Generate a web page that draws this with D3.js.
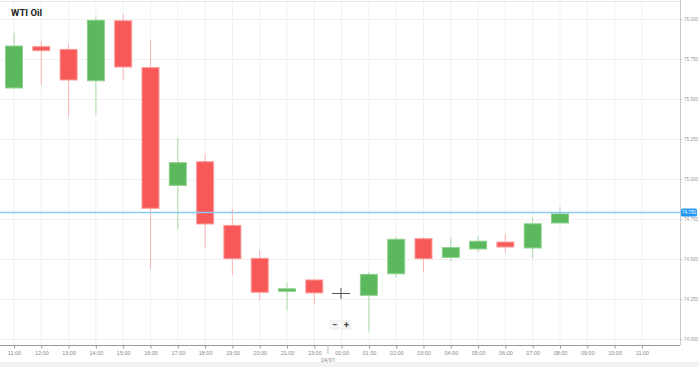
<!DOCTYPE html>
<html>
<head>
<meta charset="utf-8">
<script src="https://cdn.jsdelivr.net/npm/d3@7"></script>
<style>
  body { margin: 0; background: #fff; }
  svg { display: block; font-family: "Roboto", "Open Sans", sans-serif; }
</style>
</head>
<body>
<div id="chart"></div>
<script>
// chart data
const timeLabels = ["11:00","12:00","13:00","14:00","15:00","16:00","17:00","18:00","19:00","20:00","21:00","23:00",
                    "00:00","01:00","02:00","03:00","04:00","05:00","06:00","07:00","08:00","09:00","10:00","11:00"];
// index into timeLabels for each candle
const candleSlot = [0,1,2,3,4,5,6,7,8,9,10,11,13,14,15,16,17,18,19,20];
const opens  = [75.569,75.827,75.810,75.614,75.989,75.696,74.960,75.108,74.710,74.504,74.298,74.369,74.273,74.408,74.627,74.510,74.563,74.606,74.569,74.725];
const closes = [75.831,75.802,75.619,75.992,75.700,74.817,75.102,74.719,74.502,74.292,74.314,74.288,74.404,74.623,74.502,74.571,74.611,74.575,74.720,74.782];
const highs  = [75.913,75.864,75.844,76.014,76.031,75.864,75.258,75.160,74.813,74.556,74.352,74.373,74.420,74.636,74.636,74.636,74.644,74.658,74.758,74.827];
const lows   = [75.569,75.588,75.389,75.400,75.619,74.436,74.688,74.573,74.400,74.244,74.177,74.219,74.046,74.386,74.419,74.488,74.540,74.538,74.504,74.717];
const yTicks = [74.0,74.25,74.5,74.75,75.0,75.25,75.5,75.75,76.0];
const lastPrice = 74.782;
const dateLabel = "24/01";

const width = 699, height = 367;
const plotRight = 680, plotBottom = 345;

const svg = d3.select("#chart").append("svg")
    .attr("width", width)
    .attr("height", height);

const x = d3.scalePoint()
    .domain(d3.range(timeLabels.length))
    .range([14, 641.9]);

const y = d3.scaleLinear()
    .domain([74, 76])
    .range([339, 19]);

// bottom strip
svg.append("rect")
    .attr("x", 0).attr("y", 362).attr("width", width).attr("height", 5)
    .attr("fill", "#f3f3f3");

// grid
svg.append("g").selectAll("line")
    .data(d3.range(timeLabels.length))
    .enter().append("line")
    .attr("x1", d => x(d)).attr("x2", d => x(d))
    .attr("y1", 1).attr("y2", plotBottom)
    .attr("stroke", "#f1f1f1");

svg.append("g").selectAll("line")
    .data(yTicks)
    .enter().append("line")
    .attr("x1", 0).attr("x2", plotRight)
    .attr("y1", d => y(d) + 0.5).attr("y2", d => y(d) + 0.5)
    .attr("stroke", "#f1f1f1");

// top border
svg.append("line")
    .attr("x1", 0).attr("x2", plotRight).attr("y1", 1.5).attr("y2", 1.5)
    .attr("stroke", "#e8e8e8");

// right axis
const yAxis = svg.append("g")
    .attr("transform", `translate(${plotRight + 0.5},0)`)
    .call(d3.axisRight(y).tickValues(yTicks).tickFormat(d3.format(".3f")).tickSize(2).tickPadding(1.5));
yAxis.select(".domain").attr("stroke", "#c8c8c8").attr("d", `M0,0V${plotBottom}`);
yAxis.selectAll(".tick line").attr("stroke", "#c8c8c8");
yAxis.selectAll("text").attr("fill", "#999").style("font-size", "4.6px");

// bottom axis
const xAxis = svg.append("g")
    .attr("transform", `translate(0,${plotBottom + 0.5})`)
    .call(d3.axisBottom(x).tickFormat(i => timeLabels[i]).tickSize(3).tickPadding(3));
xAxis.select(".domain").attr("stroke", "#999").attr("d", `M0,0H${plotRight}`);
xAxis.selectAll(".tick line").attr("stroke", "#999");
xAxis.selectAll("text").attr("fill", "#888").style("font-size", "5.5px");

// date separator
const sepX = (x(11) + x(12)) / 2;
svg.append("line")
    .attr("x1", sepX).attr("x2", sepX)
    .attr("y1", plotBottom).attr("y2", plotBottom + 9)
    .attr("stroke", "#bbb");
svg.append("text")
    .attr("x", sepX).attr("y", 362)
    .attr("text-anchor", "middle")
    .attr("fill", "#888").style("font-size", "5.5px")
    .text(dateLabel);

// candles
const candles = candleSlot.map((s, i) => ({
    slot: s, open: opens[i], close: closes[i], high: highs[i], low: lows[i]
}));
const bodyW = 17;
const up = d => d.close >= d.open;

const g = svg.append("g");
g.selectAll("line.wick")
    .data(candles)
    .enter().append("line")
    .attr("class", "wick")
    .attr("x1", d => x(d.slot)).attr("x2", d => x(d.slot))
    .attr("y1", d => y(d.high)).attr("y2", d => y(d.low))
    .attr("stroke", d => up(d) ? "#a9dca9" : "#fcb4b4")
    .attr("stroke-width", 1);

g.selectAll("rect.body")
    .data(candles)
    .enter().append("rect")
    .attr("class", "body")
    .attr("x", d => x(d.slot) - bodyW / 2)
    .attr("y", d => y(Math.max(d.open, d.close)))
    .attr("width", bodyW)
    .attr("height", d => Math.max(2, Math.abs(y(d.open) - y(d.close))))
    .attr("fill", d => up(d) ? "#5cb85c" : "#f75959")
    .attr("stroke", d => up(d) ? "#8ed08e" : "#fb9a9a")
    .attr("stroke-width", 1);

// last price line + badge
const lpY = y(lastPrice) - 1.5;
svg.append("line")
    .attr("x1", 0).attr("x2", plotRight)
    .attr("y1", lpY).attr("y2", lpY)
    .attr("stroke", "#8cc8f2").attr("stroke-width", 1.5);
svg.append("rect")
    .attr("x", plotRight + 1).attr("y", lpY - 4)
    .attr("width", 16).attr("height", 8).attr("rx", 1.5)
    .attr("fill", "#2196f3");
svg.append("text")
    .attr("x", plotRight + 9).attr("y", lpY + 1.7)
    .attr("text-anchor", "middle")
    .attr("fill", "#fff").style("font-size", "4.6px")
    .text(d3.format(".3f")(lastPrice));

// cursor cross
svg.append("path")
    .attr("d", "M332,293.5H350M341,288V299")
    .attr("stroke", "#555").attr("stroke-width", 1);

// zoom buttons
const btns = [{ t: "−", cx: 334.5 }, { t: "+", cx: 346.5 }];
const bg = svg.append("g");
bg.selectAll("rect")
    .data(btns)
    .enter().append("rect")
    .attr("x", d => d.cx - 5).attr("y", 320)
    .attr("width", 10).attr("height", 10)
    .attr("fill", "#f2f2f2");
bg.selectAll("text")
    .data(btns)
    .enter().append("text")
    .attr("x", d => d.cx).attr("y", 328)
    .attr("text-anchor", "middle")
    .attr("fill", "#444").style("font-size", "9px").style("font-weight", "bold")
    .text(d => d.t);

// title
svg.append("text")
    .attr("x", 11).attr("y", 16)
    .attr("fill", "#222")
    .style("font-size", "9.5px").style("font-weight", "bold")
    .text("WTI Oil");
</script>
</body>
</html>
